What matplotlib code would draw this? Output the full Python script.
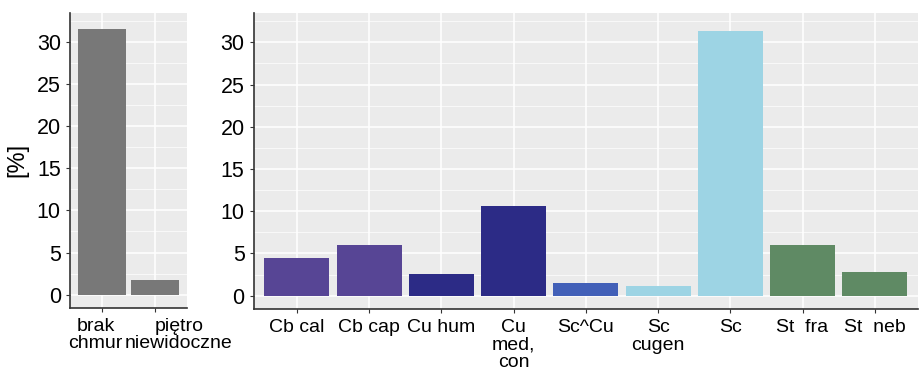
import matplotlib.pyplot as plt
import matplotlib.transforms as mtransforms
from matplotlib.ticker import MultipleLocator

plt.rcParams['font.family'] = ['Liberation Sans', 'DejaVu Sans']

left_labels = ["brak\nchmur", "piętro\nniewidoczne"]
left_values = [31.6, 1.75]
left_colors = ["#787878", "#787878"]

right_labels = ["Cb cal", "Cb cap", "Cu hum", "Cu\nmed,\ncon", "Sc^Cu",
                "Sc\ncugen", "Sc", "St  fra", "St  neb"]
right_values = [4.45, 6.05, 2.6, 10.6, 1.5, 1.2, 31.3, 5.95, 2.8]
right_colors = ["#574595", "#574595", "#2c2b86", "#2c2b86", "#4260b8",
                "#9dd4e4", "#9dd4e4", "#5f8a64", "#5f8a64"]

fig = plt.figure(figsize=(9.19, 3.77), dpi=100)
ax1 = fig.add_axes([0.076, 0.183, 0.127, 0.783])
ax2 = fig.add_axes([0.276, 0.180, 0.723, 0.786])


def style(ax, labels, values, colors):
    x = range(1, len(values) + 1)
    ax.set_facecolor("#ebebeb")
    ax.bar(x, values, width=0.9, color=colors, zorder=3)
    ax.set_xlim(0.4, len(values) + 0.6)
    ax.set_ylim(-1.6, 33.5)
    ax.yaxis.set_major_locator(MultipleLocator(5))
    ax.yaxis.set_minor_locator(MultipleLocator(2.5))
    ax.set_xticks(list(x))
    ax.set_xticklabels(labels, fontsize=14, va="top", linespacing=1.05)
    ax.tick_params(axis="y", labelsize=15.5, length=3, color="#333333")
    ax.tick_params(axis="x", length=3, color="#333333", pad=4)
    ax.tick_params(which="minor", length=0)
    ax.grid(which="major", color="white", linewidth=1.1, zorder=0)
    ax.grid(which="minor", axis="y", color="white", linewidth=0.5, zorder=0)
    ax.set_axisbelow(True)
    for s in ["top", "right"]:
        ax.spines[s].set_visible(False)
    for s in ["left", "bottom"]:
        ax.spines[s].set_color("#333333")
        ax.spines[s].set_linewidth(1.2)


style(ax1, left_labels, left_values, left_colors)
style(ax2, right_labels, right_values, right_colors)
ax1.set_ylabel("[%]", fontsize=17, labelpad=6)

# the first label sits a bit left, the second a bit right of its bar
lbls = ax1.get_xticklabels()
lbls[0].set_transform(lbls[0].get_transform() +
                      mtransforms.ScaledTranslation(-0.06, 0, fig.dpi_scale_trans))
lbls[1].set_transform(lbls[1].get_transform() +
                      mtransforms.ScaledTranslation(0.24, 0, fig.dpi_scale_trans))

fig.savefig("out.png", dpi=100)
